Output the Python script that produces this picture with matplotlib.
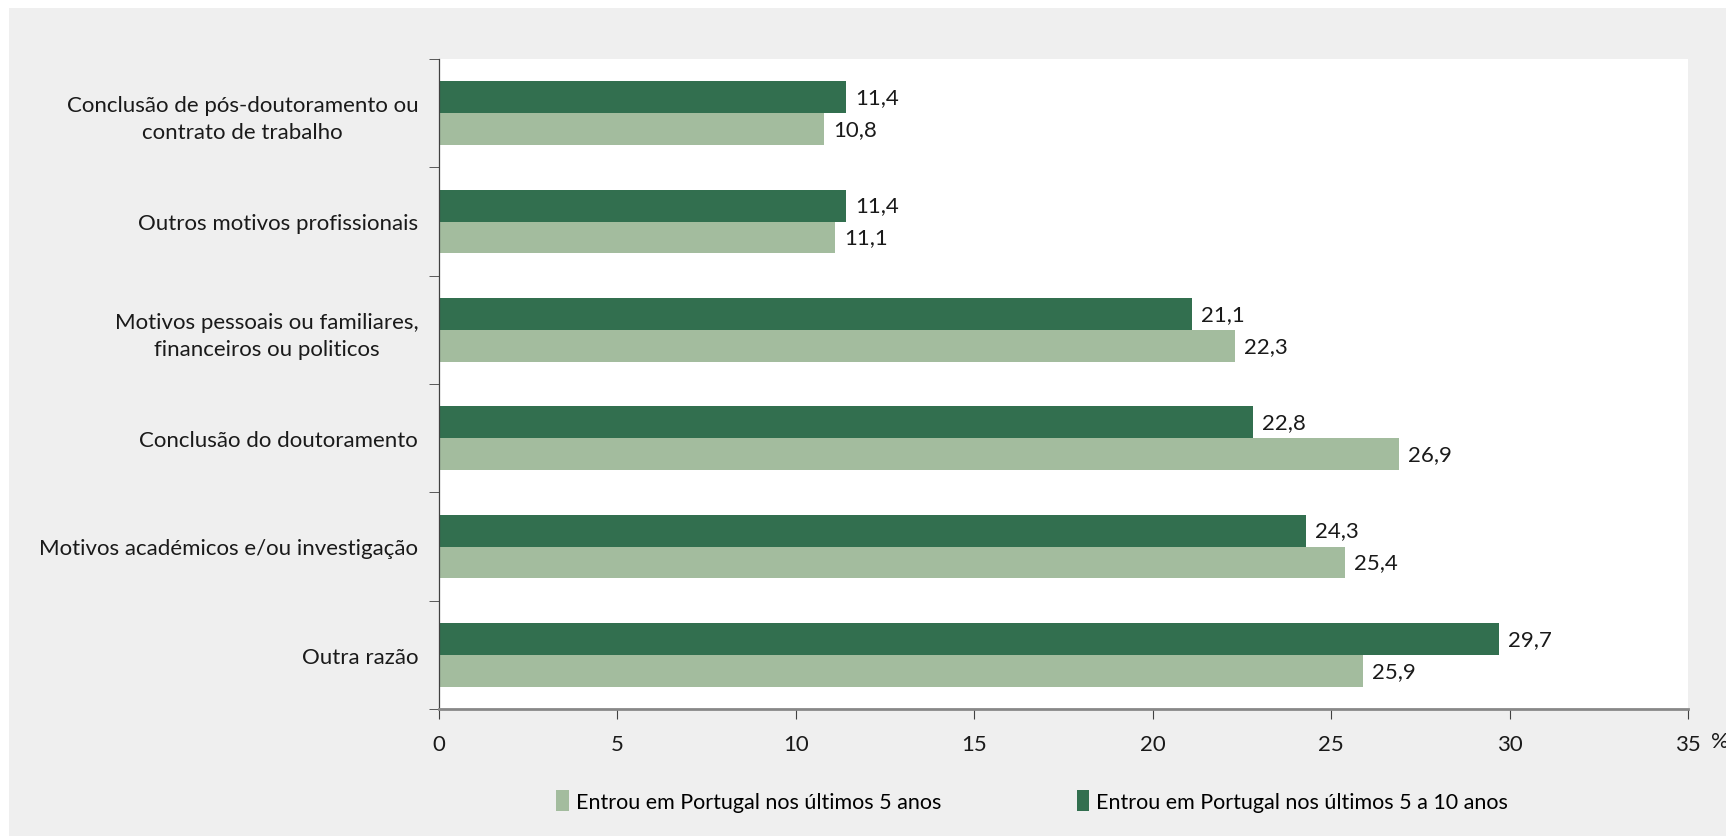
import numpy as np
import matplotlib.pyplot as plt
from matplotlib.patches import Rectangle

categories = [
    "Conclusão de pós-doutoramento ou\ncontrato de trabalho",
    "Outros motivos profissionais",
    "Motivos pessoais ou familiares,\nfinanceiros ou politicos",
    "Conclusão do doutoramento",
    "Motivos académicos e/ou investigação",
    "Outra razão",
]
last_5 = [10.8, 11.1, 22.3, 26.9, 25.4, 25.9]
last_5_10 = [11.4, 11.4, 21.1, 22.8, 24.3, 29.7]
series_names = ["Entrou em Portugal nos últimos 5 anos",
                "Entrou em Portugal nos últimos 5 a 10 anos"]
xticks = [0, 5, 10, 15, 20, 25, 30, 35]

light = "#a3bc9e"
dark = "#326f4f"
bg = "#efefef"
txt = "#1a1a1a"

plt.rcParams['font.family'] = ['Lato', 'DejaVu Sans']
fs = 16

fig = plt.figure(figsize=(17.26, 8.37), dpi=100)
fig.patch.set_facecolor("white")
fig.patches.append(Rectangle((9 / 1726, 0), 1, 1 - 9 / 837, transform=fig.transFigure,
                             facecolor=bg, edgecolor="none", zorder=-10))

ax = fig.add_axes([439 / 1726, 1 - 710 / 837, (1688 - 439) / 1726, (710 - 60) / 837])
ax.set_facecolor("white")

y = np.arange(len(categories))
h = 0.295
b1 = ax.barh(y - h / 2, last_5_10, height=h, color=dark, label=series_names[1])
b2 = ax.barh(y + h / 2, last_5, height=h, color=light, label=series_names[0])

for bars, vals in ((b1, last_5_10), (b2, last_5)):
    for bar, v in zip(bars, vals):
        ax.text(bar.get_width() + 0.25, bar.get_y() + bar.get_height() / 2,
                f"{v:.1f}".replace(".", ","), va="center", ha="left", fontsize=fs, color=txt)

ax.set_xlim(0, 35)
ax.set_ylim(len(categories) - 0.5, -0.5)
ax.set_xticks(xticks)
ax.set_xticklabels([str(t) for t in xticks], fontsize=fs, color=txt)
ax.set_yticks(y)
ax.set_yticklabels(categories, fontsize=fs, linespacing=1.45, color=txt)
ax.yaxis.set_tick_params(length=0, pad=15)
ax.set_yticks(np.arange(-0.5, len(categories)), minor=True)
ax.tick_params(axis="y", which="minor", length=7, direction="out", color="#404040")
ax.tick_params(axis="x", length=7, direction="out", pad=11, color="#404040")
for lbl in ax.get_yticklabels():
    lbl.set_multialignment("center")

for s in ("top", "right"):
    ax.spines[s].set_visible(False)
ax.spines["left"].set_color("#404040")
ax.spines["left"].set_linewidth(0.9)
ax.spines["bottom"].set_color("#888888")
ax.spines["bottom"].set_linewidth(2)

fig.text(1711 / 1726, 1 - 742 / 837, "%", fontsize=fs, ha="left", va="center", color=txt)

handles = [b2, b1]
fig.legend(handles, series_names, loc="center", bbox_to_anchor=(1032 / 1726, 1 - 802 / 837),
           ncol=2, frameon=False, fontsize=15.5, handlelength=0.6, handleheight=1.1,
           handletextpad=0.3, columnspacing=6.3)

fig.savefig("out.png", dpi=100, facecolor=fig.get_facecolor())
